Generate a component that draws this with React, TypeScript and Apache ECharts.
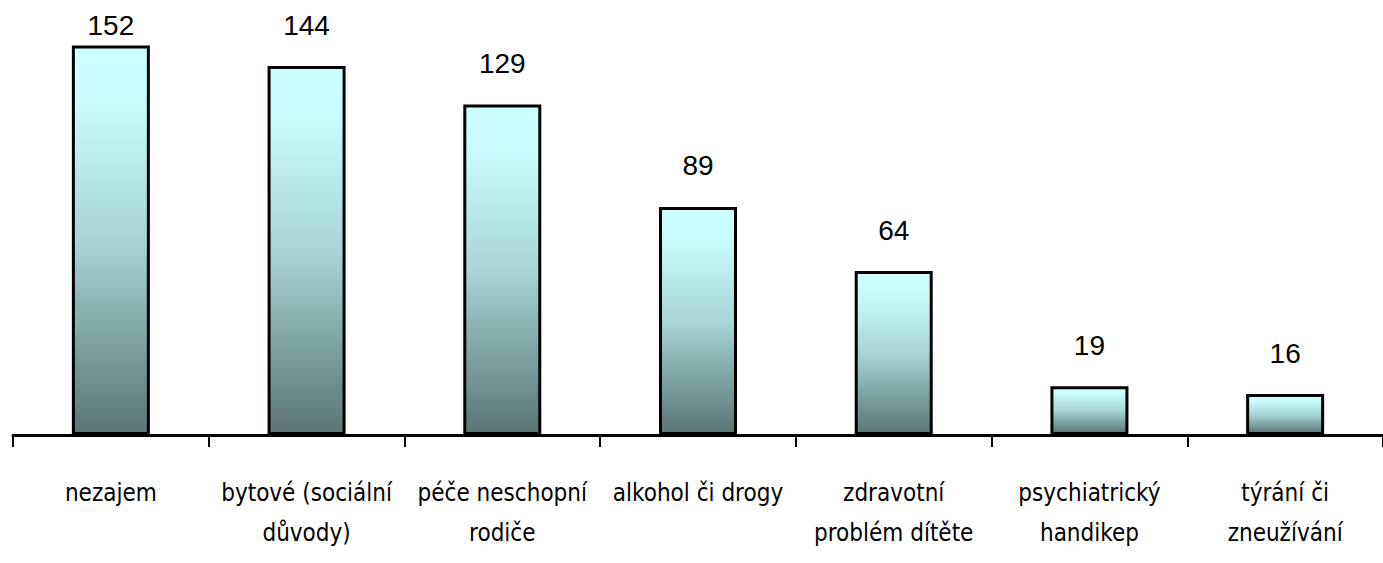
import React, { useEffect, useRef } from "react";
import * as echarts from "echarts";

const categories: string[] = [
  "nezajem",
  "bytové (sociální\ndůvody)",
  "péče neschopní\nrodiče",
  "alkohol či drogy",
  "zdravotní\nproblém dítěte",
  "psychiatrický\nhandikep",
  "týrání či\nzneužívání",
];
const values: number[] = [152, 144, 129, 89, 64, 19, 16];

export default function App() {
  const ref = useRef<HTMLDivElement>(null);
  useEffect(() => {
    if (!ref.current) return;
    const chart = echarts.init(ref.current, null, { renderer: "svg" });
    const gradient = new echarts.graphic.LinearGradient(0, 0, 0, 1, [
      { offset: 0, color: "#CCFFFF" },
      { offset: 0.15, color: "#C8FAFA" },
      { offset: 0.5, color: "#A8D5D5" },
      { offset: 0.75, color: "#80A4A4" },
      { offset: 1, color: "#5C7474" },
    ]);
    const maxVal = Math.max(...values);
    chart.setOption({
      animation: false,
      backgroundColor: "#ffffff",
      grid: { left: 13, right: 0, top: 25, bottom: 128, containLabel: false },
      xAxis: {
        type: "category",
        data: categories,
        axisLine: { show: true, lineStyle: { color: "#000", width: 3 } },
        axisTick: { show: true, length: 12, lineStyle: { color: "#000", width: 2 } },
        axisLabel: {
          interval: 0,
          margin: 38,
          color: "#000",
          fontFamily: "'DejaVu Sans Condensed', 'DejaVu Sans', sans-serif",
          fontSize: 24,
          lineHeight: 40,
          verticalAlign: "top",
        },
      },
      yAxis: {
        type: "value",
        min: 0,
        max: 160,
        show: false,
        splitLine: { show: false },
      },
      series: [
        {
          type: "bar",
          barWidth: 78,
          data: values.map((v) => ({
            value: v,
            label: { distance: v === maxVal ? 6 : 27 },
          })),
          itemStyle: { color: gradient, borderColor: "#000", borderWidth: 3 },
          label: {
            show: true,
            position: "top",
            color: "#000",
            fontFamily: "'Liberation Sans', Arial, sans-serif",
            fontSize: 28,
          },
        },
      ],
    });
    return () => chart.dispose();
  }, []);
  return <div ref={ref} style={{ width: 1383, height: 563, position: "absolute", left: 0, top: 0 }} />;
}
